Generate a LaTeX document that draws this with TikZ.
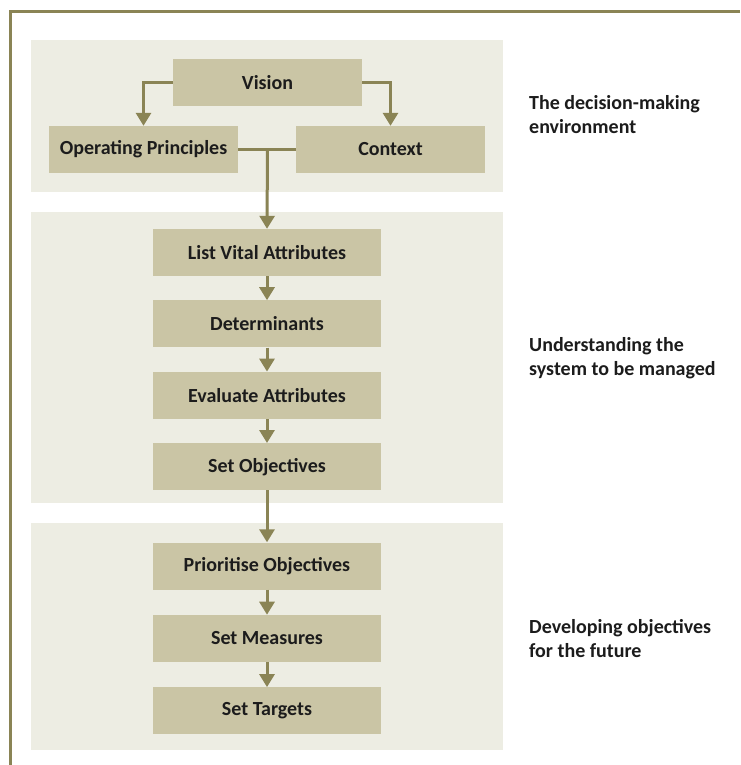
\documentclass[tikz,border=0pt]{standalone}
\usepackage{fontspec}
\setmainfont{Carlito}
\usetikzlibrary{positioning,arrows.meta}

\definecolor{linecol}{HTML}{8A8455}
\definecolor{boxfill}{HTML}{CAC5A5}
\definecolor{panelfill}{HTML}{EDEDE3}
\definecolor{textcol}{HTML}{1C1C1C}

\tikzset{
  stage/.style={rectangle, fill=boxfill, inner sep=0pt, minimum width=228pt,
    minimum height=47pt, text=textcol, font=\bfseries\fontsize{20}{24}\selectfont},
  flow/.style={draw=linecol, line width=3pt, -{Triangle[width=15pt,length=13pt]}},
  link/.style={draw=linecol, line width=3pt},
  panel/.style={fill=panelfill},
  side/.style={anchor=west, align=left, inner sep=0pt, text=textcol,
    font=\bfseries\fontsize{20}{24}\selectfont}
}

\begin{document}
\begin{tikzpicture}[x=1pt,y=-1pt]
  \useasboundingbox (0,0) rectangle (740,765);
  \fill[white] (0,0) rectangle (740,765);

  % Panels
  \fill[panel] (31,40) rectangle (503,192);
  \fill[panel] (31,212) rectangle (503,503);
  \fill[panel] (31,523) rectangle (503,750);
  \draw[linecol, line width=3pt] (740,12) -- (10,12) -- (10,765);

  % Define nodes
  \node[stage, minimum width=189pt] (vision) at (267.5,83) {Vision};
  \node[stage, minimum width=189pt] (ops) at (143.5,149.5) {Operating Principles};
  \node[stage, minimum width=189pt] (context) at (390.5,149.5) {Context};
  \coordinate (junction) at (ops.east -| vision.south);

  \node[stage] (attrs) at (267,252.5) {List Vital Attributes};
  \node[stage, below=24pt of attrs] (determ) {Determinants};
  \node[stage, below=24pt of determ] (evaluate) {Evaluate Attributes};
  \node[stage, below=24pt of evaluate] (objectives) {Set Objectives};

  \node[stage] (prioritise) at (267,566) {Prioritise Objectives};
  \node[stage, below=25pt of prioritise] (measures) {Set Measures};
  \node[stage, below=25pt of measures] (targets) {Set Targets};

  \node[side] (envtext) at (529,115) {The decision-making\\environment};
  \node[side] (systext) at (529,358) {Understanding the\\system to be managed};
  \node[side] (futtext) at (529,638.5) {Developing objectives\\for the future};

  % Connect the nodes
  \draw[flow] (vision.west) -| (ops.north);
  \draw[flow] (vision.east) -| (context.north);
  \draw[link] (ops.east) -- (context.west);
  \draw[flow] (junction) -- (attrs.north);
  \foreach \a/\b in {attrs/determ, determ/evaluate, evaluate/objectives,
                     objectives/prioritise, prioritise/measures, measures/targets}
    \draw[flow] (\a) -- (\b);
\end{tikzpicture}
\end{document}
